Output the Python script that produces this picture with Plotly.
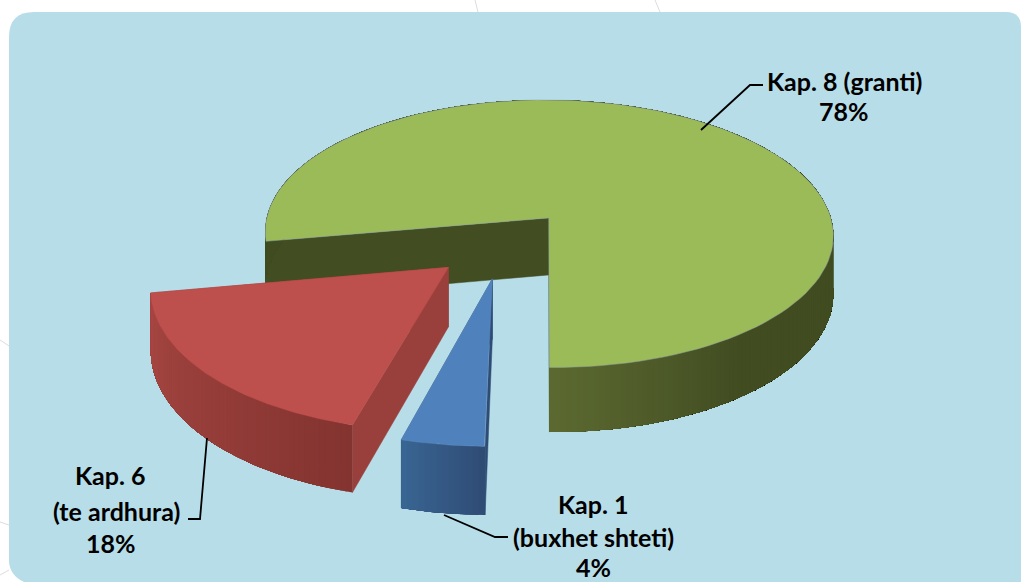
import math
import plotly.graph_objects as go

# chart data
categories = ["Kap. 1 (buxhet shteti)", "Kap. 6 (te ardhura)", "Kap. 8 (granti)"]
values = [4, 18, 78]
label_lines = [["Kap. 1", "(buxhet shteti)", "4%"],
               ["Kap. 6", "(te ardhura)", "18%"],
               ["Kap. 8 (granti)", "78%"]]

# pie settings, first slice angle is clockwise from the back of the pie
first_angle = 180.8
explode = 0.25
radius = 0.118

# perspective camera, all in screen pixels
center_x = -0.0029
center_w = 0.9776
focal = 2390
vanish_x = 510
horizon_y = -900
top_plane = 1118
bottom_plane = 1175

W, H = 1021, 582
BG = "#b7dde8"
top_colors = ["#4f81bd", "#bd4f4c", "#9bbb59"]
top_edges = ["#5f8cc0", "#bd4f4c", "#8fa3a8"]
# wall shade from the slice start angle to the end of the shade range
wall_shades = [("#2f4c75", "#3a6795", 14.4),
               ("#843430", "#a84743", 64.8),
               ("#5c6a31", "#414c21", 38)]
cut_colors = ["#2f4c75", "#9a403c", "#424d21"]


def mix(c1, c2, t):
    a = [int(c1[i:i + 2], 16) for i in (1, 3, 5)]
    b = [int(c2[i:i + 2], 16) for i in (1, 3, 5)]
    return "rgb(%d,%d,%d)" % tuple(round(p + (q - p) * t) for p, q in zip(a, b))


def project(x, y, plane):
    w = center_w + y
    return vanish_x + focal * (center_x + x) / w, horizon_y + plane / w


def rim(apex, deg, plane):
    t = math.radians(deg)
    return project(apex[0] + radius * math.sin(t), apex[1] + radius * math.cos(t), plane)


def polygon(fig, pts, color, line=None, width=0.0):
    xs = [p[0] for p in pts] + [pts[0][0]]
    ys = [p[1] for p in pts] + [pts[0][1]]
    fig.add_trace(go.Scatter(x=xs, y=ys, mode="lines", fill="toself", fillcolor=color,
                             line=dict(color=line or color, width=width), hoverinfo="skip"))


fig = go.Figure()

# build slices first, then draw the big back slice before the front ones
slices = []
start = first_angle
for i, v in enumerate(values):
    sweep = v / sum(values) * 360
    mid = math.radians(start + sweep / 2)
    apex = (explode * radius * math.sin(mid), explode * radius * math.cos(mid))
    slices.append((i, start, sweep, apex))
    start += sweep

for i, a0, sweep, apex in [slices[2], slices[0], slices[1]]:
    a1 = a0 + sweep
    # cut faces
    for edge in (a0, a1):
        polygon(fig, [project(apex[0], apex[1], top_plane), rim(apex, edge, top_plane),
                      rim(apex, edge, bottom_plane), project(apex[0], apex[1], bottom_plane)],
                cut_colors[i], width=0.5)
    # outer wall, each strip runs on to the end of the arc and the next one paints over it
    c_from, c_to, shade_span = wall_shades[i]
    n = max(12, int(sweep))
    for k in range(n):
        s0 = a0 + sweep * k / n
        if i == 2:
            # green slice wraps the other way: the lit part is its end, at the front
            t = min(1, (a1 - s0) / shade_span)
        else:
            t = min(1, (s0 - a0) / shade_span)
        steps = range(k, n + 1)
        upper = [rim(apex, a0 + sweep * j / n, top_plane) for j in steps]
        lower = [rim(apex, a0 + sweep * j / n, bottom_plane) for j in steps]
        polygon(fig, upper + lower[::-1], mix(c_from, c_to, t))
    # top face
    arc = [rim(apex, a0 + sweep * k / 120, top_plane) for k in range(121)]
    polygon(fig, [project(apex[0], apex[1], top_plane)] + arc, top_colors[i],
            line=top_edges[i], width=0.5)

# leader lines
leaders = [([444, 495, 508], [515, 537, 537]),
           ([207, 200, 188], [438, 519, 519]),
           ([701, 750, 763], [130, 85, 85])]
for lx, ly in leaders:
    fig.add_trace(go.Scatter(x=lx, y=ly, mode="lines", line=dict(color="black", width=1.8),
                             hoverinfo="skip"))

# labels, one annotation per line so the line spacing can follow the picture
label_x = [[593, 593, 593], [110, 116, 111], [844, 844]]
label_y = [[504, 537, 567], [475, 511, 543], [81, 111]]
for lines, xs, ys in zip(label_lines, label_x, label_y):
    for text, x, y in zip(lines, xs, ys):
        fig.add_annotation(x=x, y=y, text="<b>%s</b>" % text, showarrow=False,
                           font=dict(family="Lato", size=25, color="black"),
                           xanchor="center", yanchor="middle")

# panel and the faint page decoration behind it
decor = ["M 475 0 L 478 12", "M 655 0 L 660 12", "M 0 340 L 9 346",
         "M 0 522 L 9 525", "M 0 575 L 9 570"]
shapes = [dict(type="path", path=p, line=dict(color="#dcdcdc", width=1), layer="below") for p in decor]
shapes.append(dict(type="path",
                   path="M 9 37 Q 9 12 34 12 L 1006 12 Q 1021 12 1021 27 L 1021 582 "
                        "L 24 582 Q 9 575 9 560 Z",
                   fillcolor=BG, line=dict(width=0), layer="below"))

fig.update_layout(width=W, height=H, margin=dict(l=0, r=0, t=0, b=0), showlegend=False,
                  paper_bgcolor="white", plot_bgcolor="white", shapes=shapes,
                  xaxis=dict(range=[0, W], visible=False, fixedrange=True),
                  yaxis=dict(range=[H, 0], visible=False, fixedrange=True))
# the page body has a default margin that would shift the chart
fig.write_html("out.html", config={"displayModeBar": False},
               post_script="document.body.style.margin='0';document.body.style.overflow='hidden';")
